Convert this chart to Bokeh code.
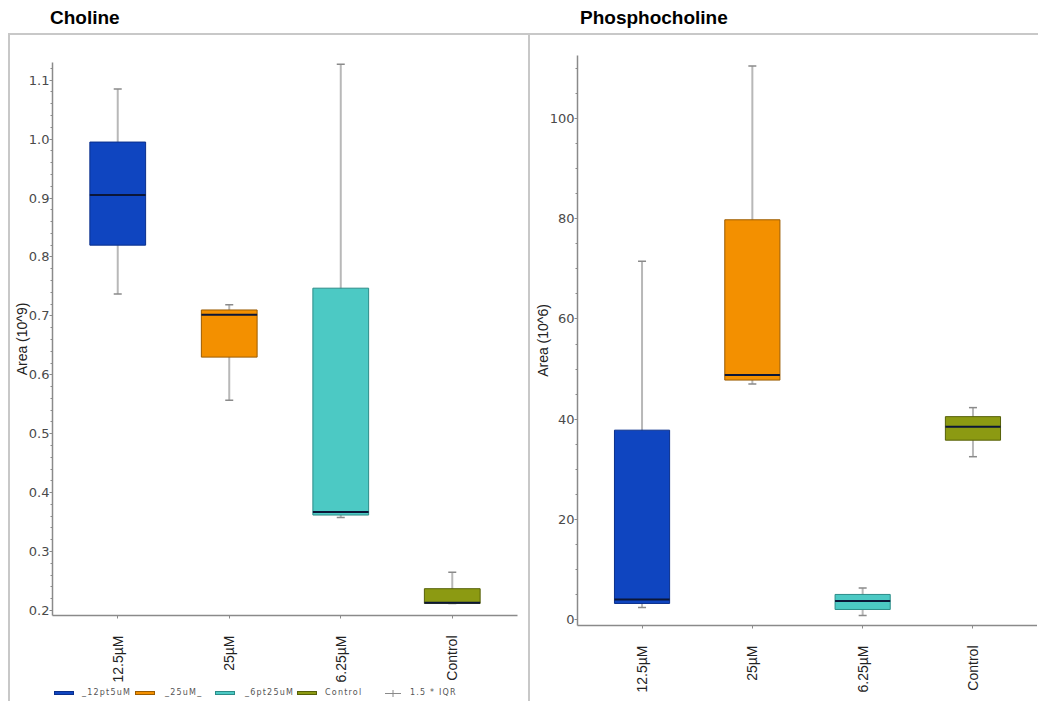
from math import pi
from bokeh.plotting import figure
from bokeh.layouts import column, row
from bokeh.models import (ColumnDataSource, FactorRange, Range1d, SingleIntervalTicker,
                          PrintfTickFormatter, Div, Spacer)
from bokeh.embed import file_html
from bokeh.resources import INLINE

categories = ["12.5µM", "25µM", "6.25µM", "Control"]
series_names = ["_12pt5uM", "_25uM_", "_6pt25uM", "Control"]
iqr_label = "1.5 * IQR"
fill_colors = ["#0f45c0", "#f39000", "#4cc9c4", "#8c9a12"]
edge_colors = ["#0a2f8c", "#9c5c00", "#2c8c88", "#566008"]

# Choline, Area (10^9)
choline_lower = [0.737, 0.557, 0.358, 0.212]
choline_q1 = [0.820, 0.630, 0.362, 0.212]
choline_median = [0.905, 0.702, 0.367, 0.213]
choline_q3 = [0.995, 0.710, 0.747, 0.237]
choline_upper = [1.085, 0.719, 1.127, 0.265]

# Phosphocholine, Area (10^6)
phos_lower = [2.4, 47.0, 0.8, 32.5]
phos_q1 = [3.2, 47.8, 2.0, 35.8]
phos_median = [4.0, 48.8, 3.7, 38.5]
phos_q3 = [37.8, 79.8, 5.0, 40.5]
phos_upper = [71.5, 110.5, 6.3, 42.3]

AXIS_GREY = "#8a8a8a"
STEM_GREY = "#b8b8b8"
TICK_FONT = "DejaVu Sans"
LABEL_FONT = "Liberation Sans"
FRAME_GREY = "#c8c8c8"
PANEL_TOP = 35
PANEL_H = 666
LEGEND_H = 14


def make_panel(lower, q1, med, q3, upper, y_start, y_end, interval, minor, fmt,
               ylabel, width, height, frame_left, frame_top, frame_right, frame_bottom):
    src = ColumnDataSource(dict(x=categories, lower=lower, q1=q1, med=med, q3=q3,
                                upper=upper))
    p = figure(x_range=FactorRange(factors=categories, range_padding=0.085,
                                   range_padding_units="absolute"),
               y_range=Range1d(y_start, y_end), width=width, height=height,
               output_backend="svg", toolbar_location=None,
               min_border_left=frame_left, min_border_top=frame_top - PANEL_TOP,
               min_border_right=frame_right,
               min_border_bottom=height - (frame_bottom - PANEL_TOP), margin=0)
    p.outline_line_color = None
    p.grid.visible = False

    p.segment(x0="x", y0="lower", x1="x", y1="upper", source=src,
              line_color=STEM_GREY, line_width=2)
    p.scatter(x="x", y="upper", source=src, marker="dash", size=8,
              line_color=AXIS_GREY, line_width=1.5)
    p.scatter(x="x", y="lower", source=src, marker="dash", size=8,
              line_color=AXIS_GREY, line_width=1.5)
    for i in range(len(categories)):
        p.vbar(x=[categories[i]], top=[q3[i]], bottom=[q1[i]], width=0.5,
               fill_color=fill_colors[i], line_color=edge_colors[i], line_width=1)
    p.vbar(x="x", top="med", bottom="med", width=0.5, source=src,
           line_color="#0b1638", line_width=2, fill_color=None)

    p.yaxis.ticker = SingleIntervalTicker(interval=interval, num_minor_ticks=minor)
    p.yaxis.formatter = PrintfTickFormatter(format=fmt)
    p.yaxis.axis_label = ylabel
    p.yaxis.axis_label_text_font = LABEL_FONT
    p.yaxis.axis_label_text_font_style = "normal"
    p.yaxis.axis_label_text_font_size = "14px"
    p.yaxis.axis_label_text_color = "#222222"
    p.yaxis.axis_label_standoff = -4
    p.yaxis.major_label_text_font = TICK_FONT
    p.yaxis.major_label_text_font_size = "13px"
    p.yaxis.major_label_text_color = "#4a4a4a"
    p.yaxis.major_label_standoff = 0

    for ax in (p.xaxis[0], p.yaxis[0]):
        ax.axis_line_color = AXIS_GREY
        ax.axis_line_width = 1.5
        ax.major_tick_line_color = AXIS_GREY
        ax.minor_tick_line_color = AXIS_GREY
        ax.major_tick_in = 0
        ax.major_tick_out = 3
        ax.minor_tick_in = 0
        ax.minor_tick_out = 2

    p.xaxis.major_label_orientation = pi / 2
    p.xaxis.major_label_text_font = LABEL_FONT
    p.xaxis.major_label_text_font_size = "14px"
    p.xaxis.major_label_text_color = "#222222"
    p.xaxis.major_label_standoff = 17
    return p


# left panel spans x 10..528, right panel x 530..1037 (page pixels)
p1 = make_panel(choline_lower, choline_q1, choline_median, choline_q3, choline_upper,
                0.1915, 1.13, 0.1, 5, "%.1f", "Area (10^9)",
                518, PANEL_H - LEGEND_H, 42, 62, 11, 615)
p2 = make_panel(phos_lower, phos_q1, phos_median, phos_q3, phos_upper,
                -1.2, 112.6, 20, 4, "%d", "Area (10^6)",
                507, PANEL_H, 47, 55, 0, 625)

# legend strip under the left panel
swatch_left = [44, 125, 205, 287]
text_left = [72, 155, 235, 315]
parts = []
for i in range(4):
    parts.append(
        f'<span style="position:absolute;left:{swatch_left[i]}px;top:4px;width:20px;'
        f'height:4px;background:{fill_colors[i]};border:1px solid {edge_colors[i]}"></span>')
    parts.append(
        f'<span style="position:absolute;left:{text_left[i]}px;top:1px">{series_names[i]}</span>')
parts.append(
    '<svg style="position:absolute;left:375px;top:2px" width="16" height="9">'
    f'<line x1="0" y1="4.5" x2="16" y2="4.5" stroke="{AXIS_GREY}" stroke-width="1"/>'
    f'<line x1="8" y1="1" x2="8" y2="8" stroke="{AXIS_GREY}" stroke-width="1"/></svg>')
parts.append(f'<span style="position:absolute;left:400px;top:1px">{iqr_label}</span>')
legend_html = ('<div style="position:relative;width:518px;height:14px;font-family:DejaVu Sans;'
               'font-size:8px;letter-spacing:1.2px;color:#555555;white-space:nowrap;'
               'line-height:10px">' + "".join(parts) + '</div>')
legend_div = Div(text=legend_html, width=518, height=LEGEND_H, margin=0)

title_style = {"font-family": "Liberation Sans, Arial, sans-serif", "font-size": "19px",
               "font-weight": "bold", "color": "#000000", "line-height": "20px"}
t1 = Div(text="Choline", width=480, height=25, margin=0,
         styles=dict(title_style, **{"margin-left": "42px"}))
t2 = Div(text="Phosphocholine", width=460, height=25, margin=0,
         styles=dict(title_style, **{"margin-left": "50px"}))

hline = Div(text="", width=1030, height=2, margin=0,
            styles={"background-color": FRAME_GREY})
vline_l = Div(text="", width=2, height=PANEL_H, margin=0,
              styles={"background-color": FRAME_GREY})
vline_m = Div(text="", width=2, height=PANEL_H, margin=0,
              styles={"background-color": FRAME_GREY})

left_panel = row(vline_l, column(p1, legend_div, spacing=0), spacing=0)
right_panel = row(vline_m, p2, spacing=0)
panels = row(left_panel, right_panel, spacing=0)
content = column(row(t1, t2, spacing=0), hline, panels, spacing=0)
layout = row(Spacer(width=8, height=10, margin=0),
             column(Spacer(width=10, height=8, margin=0), content, spacing=0),
             spacing=0)

open("out.html", "w").write(file_html(layout, INLINE))
